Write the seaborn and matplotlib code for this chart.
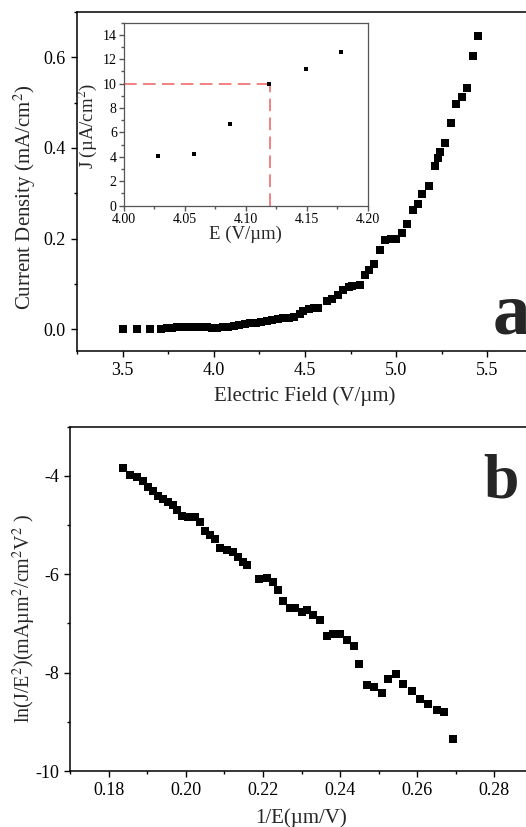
import numpy as np
import pandas as pd
import seaborn as sns
import matplotlib
matplotlib.use("Agg")
import matplotlib.pyplot as plt
from matplotlib.ticker import MultipleLocator, FormatStrFormatter

# panel a: J-E curve
campo_a = [3.50, 3.58, 3.65, 3.71, 3.745, 3.77, 3.80, 3.83, 3.87, 3.90,
           3.93, 3.96, 3.99, 4.02, 4.05, 4.08, 4.11, 4.14, 4.17, 4.20,
           4.23, 4.26, 4.29, 4.32, 4.35, 4.38, 4.41, 4.44, 4.47, 4.49,
           4.52, 4.55, 4.57, 4.62, 4.65, 4.68, 4.71, 4.74, 4.76, 4.80,
           4.83, 4.85, 4.88, 4.91, 4.94, 4.97, 5.00, 5.03, 5.06, 5.09,
           5.12, 5.14, 5.18, 5.21, 5.23, 5.24, 5.27, 5.30, 5.33, 5.36,
           5.39, 5.42, 5.45]
densidad_a = [0.000, 0.000, 0.000, 0.001, 0.002, 0.003, 0.004, 0.004, 0.005, 0.005,
              0.005, 0.004, 0.003, 0.003, 0.004, 0.006, 0.008, 0.010, 0.012, 0.013,
              0.014, 0.016, 0.018, 0.020, 0.022, 0.024, 0.025, 0.027, 0.033, 0.040,
              0.044, 0.046, 0.047, 0.063, 0.066, 0.076, 0.087, 0.093, 0.095, 0.097,
              0.120, 0.131, 0.143, 0.174, 0.196, 0.199, 0.200, 0.212, 0.232, 0.262,
              0.277, 0.299, 0.317, 0.360, 0.377, 0.392, 0.410, 0.454, 0.496, 0.513,
              0.532, 0.603, 0.647]

# inset: zoom near turn-on field
campo_ins = [4.028, 4.058, 4.087, 4.119, 4.149, 4.178]
densidad_ins = [4.05, 4.25, 6.7, 9.95, 11.2, 12.6]
turn_on_E = 4.12
turn_on_J = 10

# panel b: F-N plot
inv_E = [0.1837, 0.1855, 0.1872, 0.1889, 0.1902, 0.1915, 0.1928, 0.1941, 0.1954, 0.1967,
         0.1976, 0.1989, 0.2006, 0.2023, 0.2036, 0.2049, 0.2062, 0.2075, 0.2088, 0.2106,
         0.2123, 0.2136, 0.2149, 0.2158, 0.2189, 0.2210, 0.2227, 0.2240, 0.2253, 0.2270,
         0.2283, 0.2301, 0.2314, 0.2331, 0.2348, 0.2366, 0.2383, 0.2400, 0.2418, 0.2435,
         0.2450, 0.2470, 0.2487, 0.2508, 0.2525, 0.2545, 0.2564, 0.2586, 0.2608, 0.2629,
         0.2651, 0.2670, 0.2694]
ln_JE2 = [-3.83, -3.99, -4.03, -4.10, -4.23, -4.30, -4.40, -4.47, -4.54, -4.60,
          -4.70, -4.81, -4.84, -4.84, -4.94, -5.11, -5.21, -5.28, -5.46, -5.50,
          -5.55, -5.65, -5.75, -5.82, -6.09, -6.07, -6.16, -6.31, -6.55, -6.68,
          -6.68, -6.77, -6.72, -6.82, -6.92, -7.26, -7.22, -7.21, -7.33, -7.45,
          -7.83, -8.26, -8.30, -8.41, -8.12, -8.03, -8.24, -8.37, -8.53, -8.63,
          -8.75, -8.81, -9.34]

df_a = pd.DataFrame({"E": campo_a, "J": densidad_a})
df_ins = pd.DataFrame({"E": campo_ins, "J": densidad_ins})
df_b = pd.DataFrame({"invE": inv_E, "lnJ": ln_JE2})

sns.set_style("ticks")
plt.rcParams["font.family"] = ["Liberation Serif", "DejaVu Serif"]
plt.rcParams["mathtext.fontset"] = "stix"
plt.rcParams["axes.unicode_minus"] = False
plt.rcParams["axes.linewidth"] = 1.1

fig = plt.figure(figsize=(5.26, 8.27), dpi=100)


def estilo_ejes(ax, size=13, mayor=4.5, menor=2.5, color="black", pad=3.5):
    ax.tick_params(which="both", direction="out", colors=color, labelcolor="black",
                   labelsize=size, width=1.0, top=False, right=False, pad=pad)
    ax.tick_params(which="major", length=mayor)
    ax.tick_params(which="minor", length=menor)
    for s in ax.spines.values():
        s.set_color(color)


# ---- panel a ----
ax1 = fig.add_axes([0.1464, 0.5756, 0.867, 0.41])
sns.scatterplot(data=df_a, x="E", y="J", ax=ax1, marker="s", s=30,
                color="black", linewidth=0)
ax1.set_xlim(3.25, 5.75)
ax1.set_ylim(-0.048, 0.70)
ax1.xaxis.set_major_locator(MultipleLocator(0.5))
ax1.xaxis.set_minor_locator(MultipleLocator(0.25))
ax1.yaxis.set_major_locator(MultipleLocator(0.2))
ax1.yaxis.set_minor_locator(MultipleLocator(0.1))
ax1.xaxis.set_major_formatter(FormatStrFormatter("%.1f"))
ax1.yaxis.set_major_formatter(FormatStrFormatter("%.1f"))
estilo_ejes(ax1)
ax1.set_xlabel("Electric Field (V/µm)", fontsize=15, va="top")
ax1.set_ylabel("Current Density (mA/cm$^2$)", fontsize=15)
ax1.xaxis.set_label_coords(0.5, -0.103)
ax1.yaxis.set_label_coords(-0.0855, 0.454)

# ---- inset ----
ax_in = fig.add_axes([0.2352, 0.7513, 0.4639, 0.2213])
ax_in.plot([4.0, turn_on_E], [turn_on_J, turn_on_J], color="#f07878",
           linestyle=(0, (7, 3.5)), linewidth=1.3)
ax_in.plot([turn_on_E, turn_on_E], [0, turn_on_J], color="#f07878",
           linestyle=(0, (7, 3.5)), linewidth=1.3)
sns.scatterplot(data=df_ins, x="E", y="J", ax=ax_in, marker="s", s=8,
                color="black", linewidth=0, zorder=3)
ax_in.set_xlim(4.0, 4.2)
ax_in.set_ylim(0, 15)
ax_in.xaxis.set_major_locator(MultipleLocator(0.05))
ax_in.xaxis.set_minor_locator(MultipleLocator(0.025))
ax_in.yaxis.set_major_locator(MultipleLocator(2))
ax_in.yaxis.set_minor_locator(MultipleLocator(1))
ax_in.xaxis.set_major_formatter(FormatStrFormatter("%.2f"))
estilo_ejes(ax_in, size=10, mayor=3.5, menor=2, color="#555555", pad=1.5)
for s in ax_in.spines.values():
    s.set_linewidth(0.9)
ax_in.set_xlabel("E (V/µm)", fontsize=13.5, va="top")
ax_in.set_ylabel("J (µA/cm$^2$)", fontsize=13.5)
ax_in.xaxis.set_label_coords(0.5, -0.108)
ax_in.yaxis.set_label_coords(-0.1, 0.435)

# ---- panel b ----
ax2 = fig.add_axes([0.1337, 0.0677, 0.879, 0.4163])
sns.scatterplot(data=df_b, x="invE", y="lnJ", ax=ax2, marker="s", s=26,
                color="black", linewidth=0)
ax2.set_xlim(0.17, 0.29)
ax2.set_ylim(-10, -3)
ax2.xaxis.set_major_locator(MultipleLocator(0.02))
ax2.xaxis.set_minor_locator(MultipleLocator(0.01))
ax2.yaxis.set_major_locator(MultipleLocator(2))
ax2.yaxis.set_minor_locator(MultipleLocator(1))
ax2.xaxis.set_major_formatter(FormatStrFormatter("%.2f"))
ax2.yaxis.set_major_formatter(FormatStrFormatter("%d"))
estilo_ejes(ax2)
ax2.set_xlabel("1/E(µm/V)", fontsize=15, va="top")
ax2.set_ylabel("ln(J/E$^2$)(mAµm$^2$/cm$^2$V$^2$ )", fontsize=14.5)
ax2.xaxis.set_label_coords(0.5, -0.1076)
ax2.yaxis.set_label_coords(-0.07, 0.445)

# letras de panel
fig.text(0.937, 0.597, "a", fontsize=54, fontweight="bold", ha="left", va="baseline")
fig.text(0.918, 0.398, "b", fontsize=46, fontweight="bold", ha="left", va="baseline")

fig.savefig("out.png", dpi=100)
